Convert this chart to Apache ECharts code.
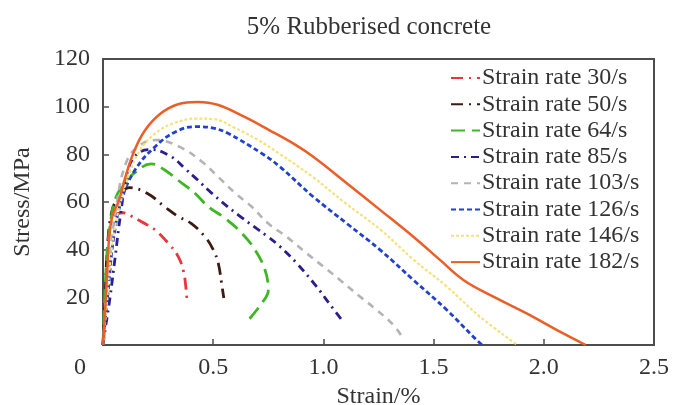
<!DOCTYPE html>
<html>
<head>
<meta charset="utf-8">
<script src="https://cdn.jsdelivr.net/npm/echarts@6/dist/echarts.min.js"></script>
<style>
  html, body { margin: 0; padding: 0; background: #fff; }
  #chart { width: 673px; height: 405px; }
</style>
</head>
<body>
<div id="chart"></div>
<script>
// Stress–strain curves of 5% rubberised concrete at different strain rates
const rateNames = ['Strain rate 30/s', 'Strain rate 50/s', 'Strain rate 64/s', 'Strain rate 85/s',
  'Strain rate 103/s', 'Strain rate 126/s', 'Strain rate 146/s', 'Strain rate 182/s'];

const strain30 = [0, 0.008, 0.018, 0.03, 0.05, 0.09, 0.13, 0.175, 0.236, 0.296, 0.342, 0.365, 0.375, 0.382];
const stress30 = [0, 15, 35, 48, 54, 55.5, 54, 51.7, 48.3, 42.7, 37, 31, 25, 17.5];

const strain50 = [0, 0.01, 0.02, 0.04, 0.07, 0.12, 0.2, 0.28, 0.34, 0.4, 0.463, 0.5, 0.523, 0.538, 0.548];
const stress50 = [0, 20, 41, 56, 62, 66, 63.7, 58, 54, 51, 45.4, 40, 34.3, 25.9, 19.7];

const strain64 = [0, 0.017, 0.035, 0.054, 0.085, 0.14, 0.22, 0.28, 0.34, 0.417, 0.478, 0.554, 0.63, 0.69, 0.735, 0.75, 0.72, 0.66];
const stress64 = [0, 37, 52, 60.8, 66.4, 72, 76, 73.4, 69.2, 63.7, 58, 53.2, 46.9, 39.9, 31.5, 23, 17.5, 10.5];

const strain85 = [0, 0.009, 0.032, 0.054, 0.08, 0.115, 0.16, 0.22, 0.31, 0.372, 0.43, 0.493, 0.613, 0.749, 0.803, 0.879, 0.969, 1.03, 1.09];
const stress85 = [0, 6, 20, 36, 55, 74, 80.5, 82, 79, 74, 69.2, 63.7, 54.6, 45.4, 41.3, 34.3, 24.5, 17, 9.7];

const strain103 = [0, 0.01, 0.03, 0.06, 0.107, 0.17, 0.244, 0.35, 0.448, 0.522, 0.6, 0.675, 0.75, 0.833, 0.924, 1.0, 1.075, 1.166, 1.242, 1.317, 1.36];
const stress103 = [0, 12, 35, 58, 77, 84, 86, 83, 77, 70.6, 63.7, 58, 51, 45.4, 38.5, 32.9, 27.3, 20.3, 14.7, 8.4, 3];

const strain126 = [0, 0.009, 0.024, 0.047, 0.085, 0.145, 0.236, 0.33, 0.42, 0.5, 0.567, 0.72, 0.8, 0.954, 1.106, 1.257, 1.408, 1.56, 1.68, 1.72];
const stress126 = [0, 9, 23, 44, 61, 73.4, 83.2, 89.5, 91.6, 91, 88.8, 80.4, 75, 62.2, 51, 39.9, 27.3, 14.7, 3.5, 0];

const strain146 = [0, 0.015, 0.03, 0.05, 0.08, 0.12, 0.17, 0.24, 0.32, 0.42, 0.5, 0.6, 0.7, 0.8, 0.95, 1.1, 1.26, 1.41, 1.56, 1.71, 1.88];
const stress146 = [0, 15, 32, 47, 60, 72, 82, 89, 93, 95, 94.8, 91, 86.2, 80.3, 70.6, 59.5, 48.3, 35.7, 24.5, 11.9, 0];

const strain182 = [0, 0.01, 0.02, 0.03, 0.045, 0.07, 0.1, 0.14, 0.19, 0.26, 0.34, 0.43, 0.52, 0.64, 0.75, 0.87, 0.954, 1.106, 1.257, 1.408, 1.529, 1.635, 1.771, 1.922, 2.073, 2.19];
const stress182 = [0, 15, 33, 47, 55, 60, 70, 81, 90, 97, 101, 102, 100.8, 95.8, 90.4, 84.2, 79, 67.9, 56.7, 45.4, 35.7, 27.3, 20.3, 13.3, 5.6, 0];

const xTickLabels = ['0.5', '1.0', '1.5', '2.0', '2.5'];
const yTickLabels = ['20', '40', '60', '80', '100', '120'];

const strainSets = [strain30, strain50, strain64, strain85, strain103, strain126, strain146, strain182];
const stressSets = [stress30, stress50, stress64, stress85, stress103, stress126, stress146, stress182];

const lineColors = ['#e8363f', '#3b1b12', '#3fb623', '#2b1f8c', '#b4b4b4', '#2040d0', '#f4e27c', '#ea5f27'];
const lineDashes = [[12, 6, 2, 6], [12, 6, 2, 6], [14, 7], [8, 5, 2, 5], [7, 6], [5, 3], [3, 2], 'solid'];
const lineWidths = [2.8, 2.8, 2.8, 2.8, 2.6, 2.8, 2.2, 2.5];

const serif = "'Liberation Serif', 'Times New Roman', serif";
const textColor = '#333';
const frameColor = '#4d4d4d';

const series = rateNames.map((name, i) => ({
  name: name,
  type: 'line',
  smooth: 0.4,
  symbol: 'none',
  data: strainSets[i].map((s, k) => [s, stressSets[i][k]]),
  lineStyle: { color: lineColors[i], width: lineWidths[i], type: lineDashes[i] },
  itemStyle: { color: lineColors[i] },
  z: 2 + i
}));

const chart = echarts.init(document.getElementById('chart'), null, { renderer: 'canvas' });
chart.setOption({
  animation: false,
  backgroundColor: '#fff',
  title: {
    text: '5% Rubberised concrete',
    left: 364,
    top: 10,
    textAlign: 'center',
    textStyle: { fontFamily: serif, fontSize: 25, fontWeight: 'normal', color: textColor }
  },
  grid: {
    left: 103, right: 19, top: 59, bottom: 60,
    outerBoundsMode: 'none',
    containLabel: false,
    show: true, borderColor: frameColor, borderWidth: 2, backgroundColor: 'transparent'
  },
  legend: {
    data: rateNames,
    orient: 'vertical',
    left: 445,
    top: 61,
    itemWidth: 29,
    itemHeight: 12,
    itemGap: 2.3,
    itemStyle: { opacity: 0 },
    textStyle: { fontFamily: serif, fontSize: 24, color: textColor, lineHeight: 24, padding: [0, 0, 0, -3] }
  },
  xAxis: {
    type: 'value',
    min: 0, max: 2.5, interval: 0.5,
    name: 'Strain/%',
    nameLocation: 'middle',
    nameGap: 35,
    nameTextStyle: { fontFamily: serif, fontSize: 24, color: textColor },
    axisLine: { lineStyle: { color: frameColor, width: 2 } },
    axisTick: { inside: true, length: 6, lineStyle: { color: frameColor, width: 1.5 } },
    axisLabel: {
      margin: 11,
      fontFamily: serif, fontSize: 24, color: textColor,
      formatter: v => (v === 0 ? '' : xTickLabels[Math.round(v / 0.5) - 1])
    },
    splitLine: { show: false }
  },
  yAxis: {
    type: 'value',
    min: 0, max: 120, interval: 20,
    name: 'Stress/MPa',
    nameLocation: 'middle',
    nameGap: 68,
    nameTextStyle: { fontFamily: serif, fontSize: 24, color: textColor },
    axisLine: { lineStyle: { color: frameColor, width: 2 } },
    axisTick: { inside: true, length: 6, lineStyle: { color: frameColor, width: 1.5 } },
    axisLabel: {
      margin: 13,
      fontFamily: serif, fontSize: 24, color: textColor,
      formatter: v => (v === 0 ? '' : yTickLabels[Math.round(v / 20) - 1])
    },
    splitLine: { show: false }
  },
  graphic: [{
    type: 'text',
    left: 74,
    top: 356,
    style: { text: '0', font: '24px ' + serif, fill: textColor }
  }],
  series: series
});
</script>
</body>
</html>
